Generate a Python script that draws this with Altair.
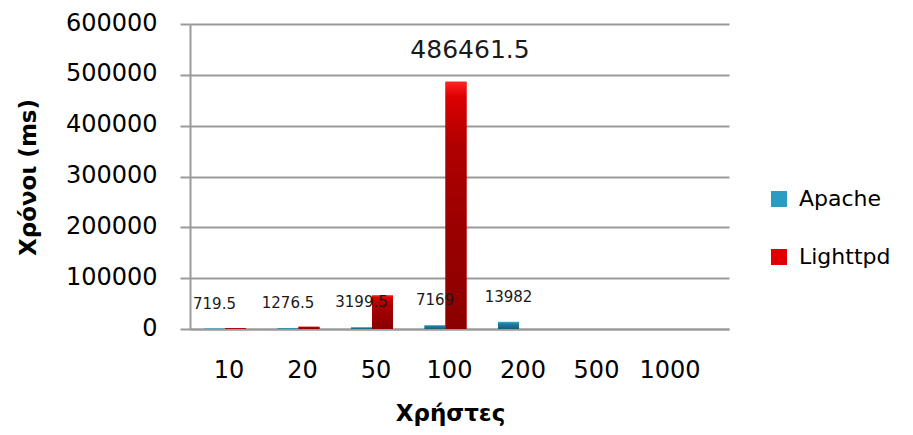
import altair as alt
import pandas as pd

# ---- data ----
users = ["10", "20", "50", "100", "200", "500", "1000"]
series = ["Apache", "Lighttpd"]
apache_ms = [719.5, 1276.5, 3199.5, 7169, 13982, None, None]
lighttpd_ms = [1500, 4500, 66000, 486461.5, None, None, None]
y_ticks = [0, 100000, 200000, 300000, 400000, 500000, 600000]
labelled_lighttpd = ["100"]

rows = []
for u, a, l in zip(users, apache_ms, lighttpd_ms):
    if a is not None:
        rows.append({"users": u, "series": "Apache", "value": a, "show": True})
    if l is not None:
        rows.append({"users": u, "series": "Lighttpd", "value": l, "show": u in labelled_lighttpd})
df = pd.DataFrame(rows)

FONT = "DejaVu Sans"
GRAY = "#9a9a9a"

x_enc = alt.X(
    "users:N",
    sort=users,
    scale=alt.Scale(domain=users, paddingInner=0.4286, paddingOuter=0.381, align=0.25),
    axis=alt.Axis(
        title="Χρήστες",
        labelAngle=0,
        ticks=False,
        tickSize=0,
        labelPadding=29,
        labelOffset=4,
        labelFont=FONT,
        labelFontSize=24,
        labelColor="#000000",
        domainColor=GRAY,
        domainWidth=2,
        grid=False,
        titleFont=FONT,
        titleFontSize=23,
        titleFontWeight="bold",
        titleColor="#000000",
        titleX=260,
        titleY=91,
        titleAlign="center",
        titleBaseline="alphabetic",
    ),
)
xoff_enc = alt.XOffset("series:N", scale=alt.Scale(domain=series, paddingInner=0, paddingOuter=0))
y_enc = alt.Y(
    "value:Q",
    scale=alt.Scale(domain=[0, 600000], nice=False),
    axis=alt.Axis(
        title="Χρόνοι (ms)",
        values=y_ticks,
        format="d",
        labelFont=FONT,
        labelFontSize=24,
        labelColor="#000000",
        labelPadding=23,
        labelOffset=-1,
        tickSize=10,
        tickColor=GRAY,
        tickWidth=2,
        domainColor=GRAY,
        domainWidth=2,
        grid=True,
        gridColor=GRAY,
        gridWidth=2,
        titleFont=FONT,
        titleFontSize=23,
        titleFontWeight="bold",
        titleColor="#000000",
        titleAngle=270,
        titleX=-162,
        titleY=153,
        titleAlign="center",
        titleBaseline="middle",
    ),
)

base = alt.Chart(df).encode(x=x_enc, xOffset=xoff_enc, y=y_enc)

legend_bars = base.mark_bar().encode(
    color=alt.Color(
        "series:N",
        scale=alt.Scale(domain=series, range=["#2a9bc2", "#e00000"]),
        legend=alt.Legend(
            title=None,
            orient="none",
            legendX=578,
            legendY=164,
            padding=0,
            symbolType="square",
            symbolSize=256,
            symbolStrokeWidth=0,
            symbolOpacity=1,
            labelFont=FONT,
            labelFontSize=22,
            labelColor="#000000",
            labelOffset=9,
            rowPadding=36,
        ),
    )
)

grad_apache = alt.LinearGradient(
    gradient="linear",
    stops=[
        alt.GradientStop(color="#3aa9cf", offset=0),
        alt.GradientStop(color="#1b7ea0", offset=0.3),
        alt.GradientStop(color="#135f7a", offset=1),
    ],
    x1=0, x2=0, y1=0, y2=1,
)
grad_lighttpd = alt.LinearGradient(
    gradient="linear",
    stops=[
        alt.GradientStop(color="#ff2424", offset=0),
        alt.GradientStop(color="#dc0000", offset=0.06),
        alt.GradientStop(color="#b00000", offset=0.25),
        alt.GradientStop(color="#9a0000", offset=0.6),
        alt.GradientStop(color="#8c0000", offset=1),
    ],
    x1=0, x2=0, y1=0, y2=1,
)

apache_bars = base.transform_filter("datum.series == 'Apache'").mark_bar(color=grad_apache)
lighttpd_bars = base.transform_filter("datum.series == 'Lighttpd'").mark_bar(color=grad_lighttpd)

apache_text = (
    base.transform_filter("datum.series == 'Apache'")
    .transform_calculate(label="toString(datum.value)")
    .mark_text(font=FONT, fontSize=15, dy=-25, baseline="middle", color="#1a1a1a")
    .encode(text="label:N")
)
lighttpd_text = (
    base.transform_filter("datum.series == 'Lighttpd' && datum.show")
    .transform_calculate(label="toString(datum.value)")
    .mark_text(font=FONT, fontSize=25, dy=-32, dx=14, baseline="middle", color="#1a1a1a")
    .encode(text="label:N")
)

chart = (
    alt.layer(legend_bars, apache_bars, lighttpd_bars, apache_text, lighttpd_text)
    .properties(
        width=539,
        height=305,
        autosize=alt.AutoSizeParams(type="none"),
        padding={"left": 182, "top": 16, "right": 176, "bottom": 98},
        background="white",
    )
    .configure_view(stroke="transparent")
)

chart.save("out.html", embed_options={"renderer": "svg", "actions": False})
